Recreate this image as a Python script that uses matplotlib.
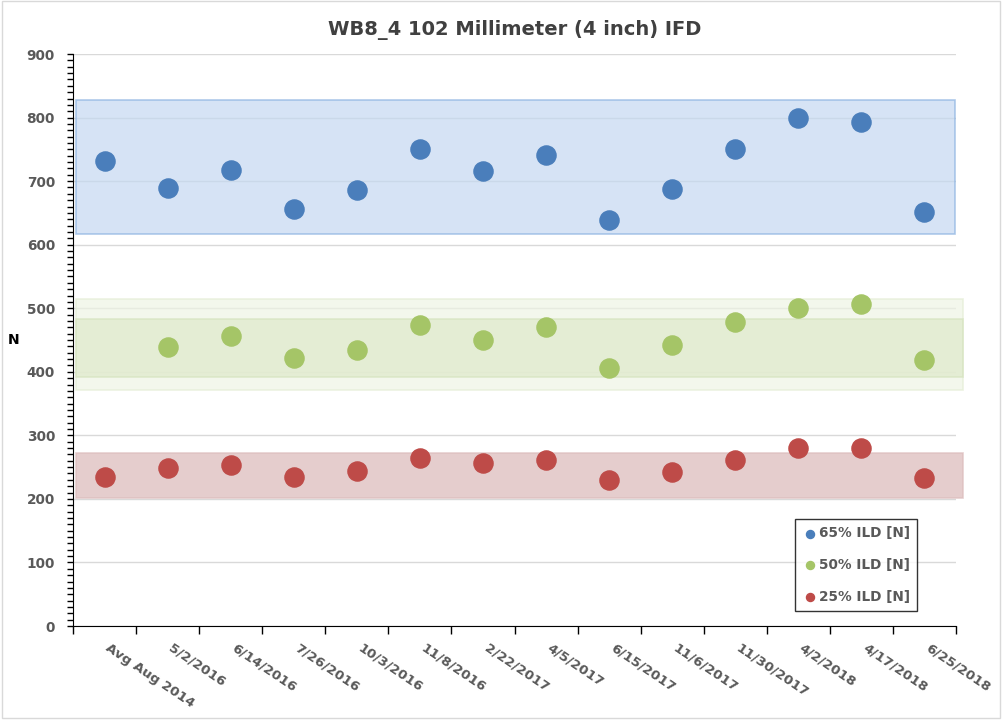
import matplotlib
matplotlib.use('Agg')
import matplotlib.pyplot as plt
from matplotlib.patches import Rectangle
from matplotlib.transforms import ScaledTranslation
from matplotlib.ticker import MultipleLocator, FixedLocator, NullFormatter

dates = ['Avg Aug 2014', '5/2/2016', '6/14/2016', '7/26/2016', '10/3/2016',
         '11/8/2016', '2/22/2017', '4/5/2017', '6/15/2017', '11/6/2017',
         '11/30/2017', '4/2/2018', '4/17/2018', '6/25/2018']

ild65 = [732, 689, 717, 656, 686, 750, 716, 741, 639, 688, 750, 799, 793, 651]
ild50 = [None, 439, 456, 422, 434, 474, 450, 470, 406, 442, 478, 500, 507, 419]
ild25 = [234, 249, 253, 234, 244, 264, 256, 261, 230, 242, 261, 280, 280, 233]

# tolerance bands (low, high)
band65 = (617, 828)
band50_outer = (371, 515)
band50_inner = (392, 483)
band25 = (201, 272)

plt.rcParams['font.family'] = ['DejaVu Sans']
grey = '#595959'

fig = plt.figure(figsize=(10.02, 7.27), dpi=100)
ax = fig.add_axes([0.0729, 0.1389, 0.8812, 0.7868])

x = list(range(len(dates)))

# bands
def band(lo, hi, face, edge, x1):
    r = ax.axhspan(lo, hi, xmin=0.0034, xmax=x1, facecolor=face,
                   edgecolor=edge, linewidth=1.2, zorder=1, alpha=0.7)
    r.set_clip_on(False)
    return r

band(*band65, '#c5d8f1', '#8db4e2', 0.9989)
band(*band50_outer, '#eef4e4', '#e4edd6', 1.008)
band(*band50_inner, '#dfeacb', '#d6e3bf', 1.008)
band(*band25, '#dbb9b9', '#dcbcbc', 1.008)

ax.scatter(x, ild65, s=190, color='#4a7ebb', zorder=3, label='65% ILD [N]')
x50 = [i for i, v in zip(x, ild50) if v is not None]
y50 = [v for v in ild50 if v is not None]
ax.scatter(x50, y50, s=190, color='#a5c567', zorder=3, label='50% ILD [N]')
ax.scatter(x, ild25, s=190, color='#be4b48', zorder=3, label='25% ILD [N]')

ax.set_xlim(-0.5, len(dates) - 0.5)
ax.set_ylim(0, 900)

ax.yaxis.set_major_locator(MultipleLocator(100))
ax.yaxis.set_minor_locator(MultipleLocator(10))
ax.grid(axis='y', which='major', color='#d9d9d9', linewidth=1, zorder=0)
ax.set_axisbelow(True)

ax.xaxis.set_major_locator(FixedLocator([i - 0.5 for i in range(len(dates) + 1)]))
ax.xaxis.set_major_formatter(NullFormatter())
ax.xaxis.set_minor_locator(FixedLocator(x))
ax.set_xticklabels(dates, minor=True)
ax.tick_params(axis='x', which='minor', length=0, pad=11)
ax.tick_params(axis='x', which='major', length=6, width=1, color='black')
shift = ScaledTranslation(6 / 100, 0, fig.dpi_scale_trans)
for lbl in ax.get_xticklabels(minor=True):
    lbl.set_rotation(-34)
    lbl.set_rotation_mode('anchor')
    lbl.set_ha('left')
    lbl.set_va('top')
    lbl.set_fontweight('bold')
    lbl.set_fontsize(9.6)
    lbl.set_color(grey)
    lbl.set_transform(lbl.get_transform() + shift)

ax.tick_params(axis='y', which='both', length=4, width=1, color='black', pad=9)
for lbl in ax.get_yticklabels():
    lbl.set_fontweight('bold')
    lbl.set_fontsize(9.8)
    lbl.set_color(grey)

for s in ['top', 'right']:
    ax.spines[s].set_visible(False)
ax.spines['left'].set_color('black')
ax.spines['bottom'].set_color('black')

ax.set_ylabel('N', rotation=0, fontsize=10, fontweight='bold', color='black',
              va='center', ha='center')
ax.yaxis.set_label_coords(-0.067, 0.5)

ax.set_title('WB8_4 102 Millimeter (4 inch) IFD', fontsize=14, fontweight='bold',
             color='#404040', pad=14)

leg = ax.legend(loc='lower right', bbox_to_anchor=(0.956, 0.026), frameon=True,
                fancybox=False, markerscale=0.42, handletextpad=0.1,
                labelspacing=1.3, borderpad=0.55, handlelength=1.1,
                borderaxespad=0, prop={'weight': 'bold', 'size': 9.8})
leg.get_frame().set_edgecolor('black')
leg.get_frame().set_linewidth(1)
for t in leg.get_texts():
    t.set_color(grey)

fig.patches.append(Rectangle((0.002, 0.012), 0.996, 0.986, transform=fig.transFigure,
                             fill=False, edgecolor='#d9d9d9', linewidth=1))

fig.savefig('out.png', dpi=100)
